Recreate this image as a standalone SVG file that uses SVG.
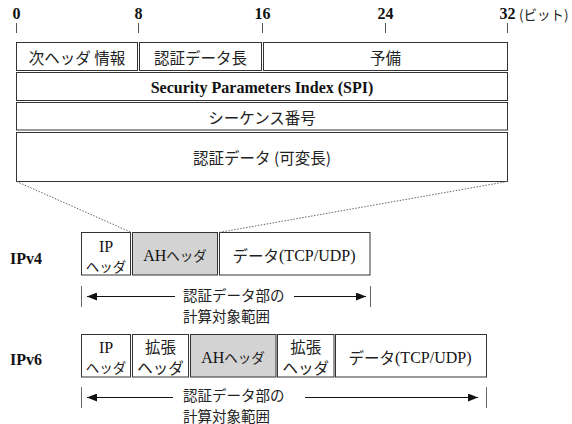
<svg xmlns="http://www.w3.org/2000/svg" width="572" height="424" viewBox="0 0 572 424">
<style>
.bg{fill:#fff}
.box{fill:#fff;stroke:#333;stroke-width:1}
.ah{fill:#d3d3d3;stroke:#333;stroke-width:1}
.tick{stroke:#555;stroke-width:1}
.num{font-family:'Liberation Serif','Times New Roman','DejaVu Serif',serif;font-weight:bold;font-size:16px;fill:#111}
.jp{font-family:'Noto Sans CJK JP','Noto Sans',sans-serif;font-size:15.5px;fill:#222}
.jpr{font-family:'Noto Sans CJK JP','Noto Sans',sans-serif;font-size:14.5px;fill:#222}
.jps{font-family:'Noto Sans CJK JP','Noto Sans',sans-serif;font-size:13.5px;fill:#222}
.ser{font-family:'Liberation Serif','Times New Roman','DejaVu Serif',serif;font-size:16px;fill:#111}
.serb{font-family:'Liberation Serif','Times New Roman','DejaVu Serif',serif;font-weight:bold;font-size:16px;fill:#111}
text{dominant-baseline:central}
.dash{stroke:#666;stroke-width:1;stroke-dasharray:1.5,1.5;fill:none}
.arr{stroke:#111;stroke-width:1;fill:none;marker-end:url(#ah)}
.brk{stroke:#666;stroke-width:1}
</style>
<defs>
<marker id="ah" markerUnits="userSpaceOnUse" markerWidth="11" markerHeight="8" refX="10" refY="4" orient="auto">
<path d="M0,0 L10,4 L0,8 z" fill="#111"/>
</marker>
</defs>
<rect class="bg" x="0" y="0" width="572" height="424"/>

<g id="scale">
<line class="tick" x1="16.5" y1="23" x2="16.5" y2="33"/>
<line class="tick" x1="138.5" y1="23" x2="138.5" y2="33"/>
<line class="tick" x1="262.5" y1="23" x2="262.5" y2="33"/>
<line class="tick" x1="385.5" y1="23" x2="385.5" y2="33"/>
<line class="tick" x1="507.5" y1="23" x2="507.5" y2="33"/>
<text class="num" x="16.5" y="13" text-anchor="middle">0</text>
<text class="num" x="138.5" y="13" text-anchor="middle">8</text>
<text class="num" x="262.5" y="13" text-anchor="middle">16</text>
<text class="num" x="385.5" y="13" text-anchor="middle">24</text>
<text class="num" x="507.5" y="13" text-anchor="middle">32</text>
<text class="jps" x="519" y="14">(ビット)</text>
</g>

<g id="next-header">
<rect class="box" x="16.5" y="42.5" width="121" height="28"/>
<text class="jp" x="77" y="57" text-anchor="middle">次ヘッダ 情報</text>
</g>
<g id="auth-length">
<rect class="box" x="139.5" y="42.5" width="122" height="28"/>
<text class="jp" x="200.5" y="57" text-anchor="middle">認証データ長</text>
</g>
<g id="reserved">
<rect class="box" x="263.5" y="42.5" width="244" height="28"/>
<text class="jp" x="385.5" y="57" text-anchor="middle">予備</text>
</g>
<g id="spi">
<rect class="box" x="16.5" y="72.5" width="491" height="28"/>
<text class="serb" x="262" y="87" text-anchor="middle">Security Parameters Index (SPI)</text>
</g>
<g id="sequence">
<rect class="box" x="16.5" y="102.5" width="491" height="27.5"/>
<text class="jp" x="262" y="116.5" text-anchor="middle">シーケンス番号</text>
</g>
<g id="auth-data">
<rect class="box" x="16.5" y="132.5" width="491" height="49"/>
<text class="jp" x="262" y="157" text-anchor="middle">認証データ (可変長)</text>
</g>

<g id="ipv4-label"><text class="serb" x="10" y="258">IPv4</text></g>
<g id="ipv4-ip">
<rect class="box" x="81.5" y="232.5" width="49" height="42.5"/>
<text class="ser" x="106" y="246.5" text-anchor="middle">IP</text>
<text class="jps" x="106" y="266" text-anchor="middle">ヘッダ</text>
</g>
<g id="ipv4-ah">
<rect class="ah" x="132.5" y="232.5" width="85" height="42.5"/>
<text x="175" y="255" text-anchor="middle"><tspan class="ser">AH</tspan><tspan class="jps">ヘッダ</tspan></text>
</g>
<g id="ipv4-data">
<rect class="box" x="219.5" y="232.5" width="150.5" height="42.5"/>
<text x="294" y="255" text-anchor="middle"><tspan class="jp">データ</tspan><tspan class="ser">(TCP/UDP)</tspan></text>
</g>
<g id="ipv4-range">
<text class="jpr"><tspan x="183" y="293.5">認証データ部の</tspan><tspan x="183" y="314.5">計算対象範囲</tspan></text>
</g>

<g id="ipv6-label"><text class="serb" x="10" y="359.5">IPv6</text></g>
<g id="ipv6-ip">
<rect class="box" x="81.5" y="334.5" width="49" height="42.5"/>
<text class="ser" x="106" y="347" text-anchor="middle">IP</text>
<text class="jps" x="106" y="367" text-anchor="middle">ヘッダ</text>
</g>
<g id="ipv6-ext1">
<rect class="box" x="132.5" y="334.5" width="56" height="42.5"/>
<text class="jp" x="160.5" y="346" text-anchor="middle">拡張</text>
<text class="jp" x="160.5" y="366.5" text-anchor="middle">ヘッダ</text>
</g>
<g id="ipv6-ah">
<rect class="ah" x="190.5" y="334.5" width="85.5" height="42.5"/>
<text x="233" y="357" text-anchor="middle"><tspan class="ser">AH</tspan><tspan class="jps">ヘッダ</tspan></text>
</g>
<g id="ipv6-ext2">
<rect class="box" x="277.5" y="334.5" width="56.5" height="42.5"/>
<text class="jp" x="305.75" y="346" text-anchor="middle">拡張</text>
<text class="jp" x="305.75" y="366.5" text-anchor="middle">ヘッダ</text>
</g>
<g id="ipv6-data">
<rect class="box" x="335.5" y="334.5" width="151" height="42.5"/>
<text x="410" y="357" text-anchor="middle"><tspan class="jp">データ</tspan><tspan class="ser">(TCP/UDP)</tspan></text>
</g>
<g id="ipv6-range">
<text class="jpr"><tspan x="183" y="394">認証データ部の</tspan><tspan x="183" y="415">計算対象範囲</tspan></text>
</g>

<g id="connectors">
<line class="dash" x1="16.5" y1="181.5" x2="131.5" y2="232.5"/>
<line class="dash" x1="507.5" y1="181.5" x2="218.5" y2="232.5"/>
<line class="brk" x1="81.5" y1="286" x2="81.5" y2="307"/>
<line class="brk" x1="370.5" y1="286" x2="370.5" y2="307"/>
<line class="arr" x1="175" y1="296.5" x2="87" y2="296.5"/>
<line class="arr" x1="294" y1="296.5" x2="366" y2="296.5"/>
<line class="brk" x1="81.5" y1="387" x2="81.5" y2="408"/>
<line class="brk" x1="486.5" y1="387" x2="486.5" y2="408"/>
<line class="arr" x1="173" y1="397.5" x2="87" y2="397.5"/>
<line class="arr" x1="305" y1="397.5" x2="478" y2="397.5"/>
</g>
</svg>
